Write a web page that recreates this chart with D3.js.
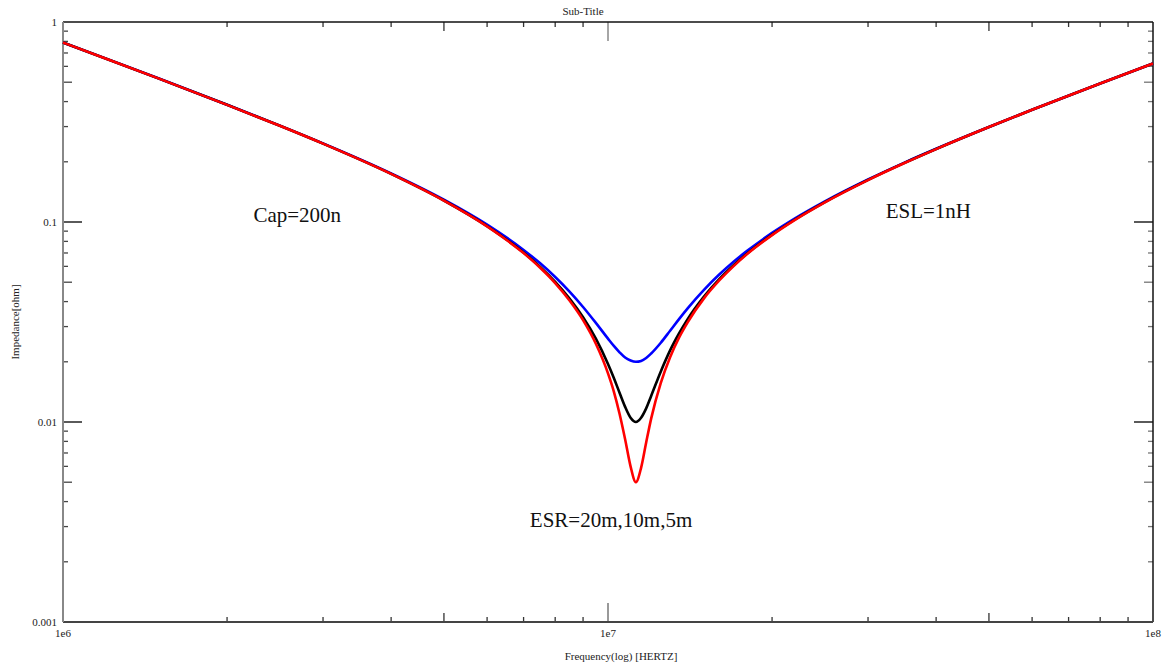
<!DOCTYPE html>
<html>
<head>
<meta charset="utf-8">
<script src="https://cdn.jsdelivr.net/npm/d3@7"></script>
<style>
html,body{margin:0;padding:0;background:#fff;}
svg{display:block;font-family:"Liberation Serif","DejaVu Serif",serif;}
</style>
</head>
<body>
<svg id="chart" width="1164" height="665"></svg>
<script>
// ---- data ----
const freqs = [1e6,1.2e6,1.5e6,2e6,2.5e6,3e6,4e6,5e6,6e6,7e6,7.5e6,8e6,8.5e6,9e6,9.5e6,1e7,1.025e7,1.05e7,1.075e7,1.1e7,1.125e7,1.15e7,1.175e7,1.2e7,1.25e7,1.3e7,1.35e7,1.4e7,1.5e7,1.6e7,1.7e7,1.8e7,2e7,2.2e7,2.5e7,3e7,3.5e7,4e7,5e7,6e7,8e7,1e8];
const zBlue  = [0.7898,0.6559,0.5215,0.3858,0.3033,0.2472,0.1750,0.1293,0.0970,0.0725,0.0623,0.0531,0.0449,0.0376,0.0313,0.0261,0.0240,0.0223,0.0210,0.0203,0.0200,0.0202,0.0209,0.0220,0.0249,0.0286,0.0327,0.0370,0.0458,0.0546,0.0633,0.0717,0.0882,0.1040,0.1268,0.1632,0.1982,0.2323,0.2985,0.3640,0.4928,0.6204];
const zBlack = [0.7896,0.6557,0.5212,0.3854,0.3028,0.2466,0.1741,0.1281,0.0954,0.0704,0.0598,0.0502,0.0414,0.0334,0.0261,0.0195,0.0166,0.0140,0.0119,0.0105,0.0100,0.0105,0.0117,0.0135,0.0179,0.0228,0.0277,0.0327,0.0424,0.0518,0.0608,0.0696,0.0865,0.1026,0.1257,0.1623,0.1974,0.2316,0.2984,0.3639,0.4928,0.6204];
const zRed   = [0.7895,0.6556,0.5211,0.3853,0.3026,0.2464,0.1739,0.1278,0.0950,0.0699,0.0592,0.0495,0.0405,0.0323,0.0246,0.0175,0.0142,0.0110,0.0082,0.0060,0.0050,0.0059,0.0079,0.0104,0.0157,0.0211,0.0264,0.0315,0.0415,0.0510,0.0602,0.0691,0.0860,0.1022,0.1254,0.1621,0.1972,0.2315,0.2983,0.3638,0.4928,0.6204];
const seriesNames = ["ESR=20m","ESR=10m","ESR=5m"];
const seriesColors = ["#0000ff","#000000","#ff0000"];
const xTickLabels = ["1e6","1e7","1e8"];
const xTickValues = [1e6,1e7,1e8];
const yTickLabels = ["0.001","0.01","0.1","1"];
const yTickValues = [0.001,0.01,0.1,1];
const annotations = [
  {text:"Cap=200n", f:2.69e6, z:0.1},
  {text:"ESL=1nH", f:3.87e7, z:0.105},
  {text:"ESR=20m,10m,5m", f:1.013e7, z:0.0030}
];

// ---- layout ----
const svg = d3.select("#chart");
const L = 63, R = 1153, T = 22, B = 622;
const x = d3.scaleLog().domain([1e6,1e8]).range([L,R]);
const y = d3.scaleLog().domain([0.001,1]).range([B,T]);

// minor ticks
function minorVals(d0,d1){
  const out=[];
  for(let e=Math.round(Math.log10(d0)); e<Math.round(Math.log10(d1)); e++){
    for(let k=2;k<=9;k++) out.push({v:k*Math.pow(10,e),k});
  }
  return out;
}
const xm = minorVals(1e6,1e8), ym = minorVals(0.001,1);
const tickLen = k => k===5 ? 9 : 5;
const g = svg.append("g");

// x minor ticks bottom & top
g.selectAll(".xmb").data(xm).enter().append("line")
  .attr("x1",d=>x(d.v)).attr("x2",d=>x(d.v)).attr("y1",B).attr("y2",d=>B-tickLen(d.k))
  .attr("stroke","#333").attr("stroke-width",1.3);
g.selectAll(".xmt").data(xm).enter().append("line")
  .attr("x1",d=>x(d.v)).attr("x2",d=>x(d.v)).attr("y1",T).attr("y2",d=>T+tickLen(d.k))
  .attr("stroke","#333").attr("stroke-width",1.3);
// y minor ticks left & right
g.selectAll(".yml").data(ym).enter().append("line")
  .attr("y1",d=>y(d.v)).attr("y2",d=>y(d.v)).attr("x1",L).attr("x2",d=>L+tickLen(d.k))
  .attr("stroke","#444").attr("stroke-width",1.3);
g.selectAll(".ymr").data(ym).enter().append("line")
  .attr("y1",d=>y(d.v)).attr("y2",d=>y(d.v)).attr("x1",R).attr("x2",d=>R-tickLen(d.k))
  .attr("stroke","#777").attr("stroke-width",1.3);
// major ticks
g.selectAll(".xMb").data(xTickValues.slice(1,-1)).enter().append("line")
  .attr("x1",d=>x(d)).attr("x2",d=>x(d)).attr("y1",B).attr("y2",B-19)
  .attr("stroke","#777").attr("stroke-width",1.5);
g.selectAll(".xMt").data(xTickValues.slice(1,-1)).enter().append("line")
  .attr("x1",d=>x(d)).attr("x2",d=>x(d)).attr("y1",T).attr("y2",T+19)
  .attr("stroke","#888").attr("stroke-width",1.5);
g.selectAll(".yMl").data(yTickValues.slice(1,-1)).enter().append("line")
  .attr("y1",d=>y(d)).attr("y2",d=>y(d)).attr("x1",L).attr("x2",L+19)
  .attr("stroke","#000").attr("stroke-width",1.3);
g.selectAll(".yMr").data(yTickValues.slice(1,-1)).enter().append("line")
  .attr("y1",d=>y(d)).attr("y2",d=>y(d)).attr("x1",R).attr("x2",R-19)
  .attr("stroke","#000").attr("stroke-width",1.3);

// frame
g.append("line").attr("x1",L).attr("x2",R).attr("y1",T).attr("y2",T).attr("stroke","#111").attr("stroke-width",1.5);
g.append("line").attr("x1",R).attr("x2",R).attr("y1",T).attr("y2",B).attr("stroke","#111").attr("stroke-width",1.5);
g.append("line").attr("x1",L).attr("x2",R).attr("y1",B).attr("y2",B).attr("stroke","#444").attr("stroke-width",2);
g.append("line").attr("x1",L).attr("x2",L).attr("y1",T).attr("y2",B).attr("stroke","#888").attr("stroke-width",2);

// tick labels
g.selectAll(".xl").data(xTickValues).enter().append("text")
  .attr("x",d=>x(d)).attr("y",B+15).attr("text-anchor","middle")
  .attr("font-size",11).attr("fill","#222").text((d,i)=>xTickLabels[i]);
g.selectAll(".yl").data(yTickValues).enter().append("text")
  .attr("x",L-6).attr("y",d=>y(d)+4).attr("text-anchor","end")
  .attr("font-size",11).attr("fill","#222").text((d,i)=>yTickLabels[i]);

// titles
svg.append("text").attr("x",583).attr("y",15).attr("text-anchor","middle")
  .attr("font-size",11).attr("fill","#222").text("Sub-Title");
svg.append("text").attr("x",621).attr("y",660).attr("text-anchor","middle")
  .attr("font-size",11).attr("fill","#222").text("Frequency(log) [HERTZ]");
svg.append("text").attr("transform","translate(19,"+((T+B)/2)+") rotate(-90)")
  .attr("text-anchor","middle").attr("font-size",11).attr("fill","#222").text("Impedance[ohm]");

// curves
const line = d3.line().x(d=>x(d[0])).y(d=>y(d[1])).curve(d3.curveMonotoneX);
const allSeries = [zBlue,zBlack,zRed];
svg.append("g").selectAll("path").data(allSeries).enter().append("path")
  .attr("d",s=>line(freqs.map((f,i)=>[f,s[i]])))
  .attr("fill","none").attr("stroke",(d,i)=>seriesColors[i])
  .attr("stroke-width",2.6).attr("stroke-linejoin","round")
  .append("title").text((d,i)=>seriesNames[i]);

// annotations
svg.append("g").selectAll("text").data(annotations).enter().append("text")
  .attr("x",d=>x(d.f)).attr("y",d=>y(d.z))
  .attr("text-anchor","middle").attr("font-size",21).attr("fill","#111")
  .text(d=>d.text);
</script>
</body>
</html>
